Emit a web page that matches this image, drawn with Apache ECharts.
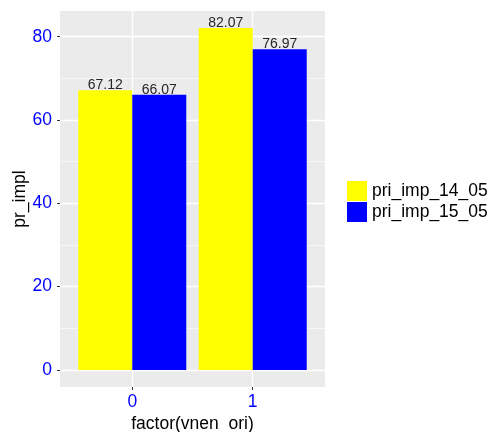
<!DOCTYPE html>
<html><head><meta charset="utf-8">
<script src="https://cdn.jsdelivr.net/npm/echarts@6/dist/echarts.min.js"></script>
<style>html,body{margin:0;padding:0;background:#fff}#c{width:493px;height:432px}</style>
</head><body><div id="c"></div>
<script>
const categories = ['0', '1'];
const seriesNames = ['pri_imp_14_05', 'pri_imp_15_05'];
const pri_imp_14_05 = [67.12, 82.07];
const pri_imp_15_05 = [66.07, 76.97];
const yTicks = [0, 20, 40, 60, 80];
const yMinorTicks = [10, 30, 50, 70];
const colors = ['#FFFF00', '#0000FF'];

const FONT = '"Liberation Sans", Arial, sans-serif';
const allVals = pri_imp_14_05.concat(pri_imp_15_05);
const vmax = Math.max(...allVals);
const yMin = -0.05 * vmax, yMax = vmax * 1.05;
const xPos = categories.map((c, i) => i);

function mk(name, vals, color) {
  return {
    name: name, type: 'bar',
    data: vals.map((v, i) => [xPos[i], v]),
    barWidth: 54, barGap: '0%',
    itemStyle: { color: color },
    label: { show: true, position: 'top', distance: -2, fontFamily: FONT, fontSize: 14, lineHeight: 14, color: '#262626',
      formatter: p => p.value[1].toFixed(2) },
    emphasis: { disabled: true }
  };
}

const chart = echarts.init(document.getElementById('c'), null, { renderer: 'canvas' });
chart.setOption({
  animation: false,
  textStyle: { fontFamily: FONT },
  grid: { left: 60, right: 168, top: 11, bottom: 45, show: true, backgroundColor: '#EBEBEB', borderWidth: 0,
    containLabel: false, outerBoundsMode: 'none' },
  legend: {
    orient: 'vertical', left: 347, top: 181, padding: 0, itemWidth: 20, itemHeight: 20, itemGap: 1,
    icon: 'rect', data: seriesNames,
    textStyle: { fontFamily: FONT, fontSize: 17.5, color: '#000' }
  },
  xAxis: {
    type: 'value', min: -0.6, max: xPos.length - 1 + 0.6, position: 'bottom',
    name: 'factor(vnen_ori)', nameLocation: 'middle', nameGap: 28, nameMoveOverlap: false,
    nameTextStyle: { fontFamily: FONT, fontSize: 17.5, color: '#000' },
    axisLine: { show: false, onZero: false },
    axisTick: { show: true, length: 3, customValues: xPos, lineStyle: { color: '#333', width: 1 } },
    axisLabel: { customValues: xPos, margin: 6, fontFamily: FONT, fontSize: 17.5, color: '#0000FF',
      formatter: v => categories[Math.round(v)] },
    splitLine: { show: true, lineStyle: { color: '#fff', width: 1.3 } }
  },
  yAxis: [{
    type: 'value', min: yMin, max: yMax, position: 'left',
    name: 'pr_impl', nameLocation: 'middle', nameGap: 31, nameRotate: 90, nameMoveOverlap: false,
    nameTextStyle: { fontFamily: FONT, fontSize: 17.5, color: '#000' },
    axisLine: { show: false, onZero: false },
    axisTick: { show: true, length: 3, customValues: yTicks, lineStyle: { color: '#333', width: 1 } },
    axisLabel: { customValues: yTicks, margin: 8, fontFamily: FONT, fontSize: 17.5, color: '#0000FF' },
    splitLine: { show: true, lineStyle: { color: '#fff', width: 1.3 } }
  }, {
    type: 'value', min: yMin, max: yMax, position: 'left',
    axisLine: { show: false, onZero: false },
    axisTick: { show: false, customValues: yMinorTicks },
    axisLabel: { show: false, customValues: yMinorTicks },
    splitLine: { show: true, lineStyle: { color: '#fff', width: 0.6 } }
  }],
  series: [mk(seriesNames[0], pri_imp_14_05, colors[0]), mk(seriesNames[1], pri_imp_15_05, colors[1])]
});
</script></body></html>
